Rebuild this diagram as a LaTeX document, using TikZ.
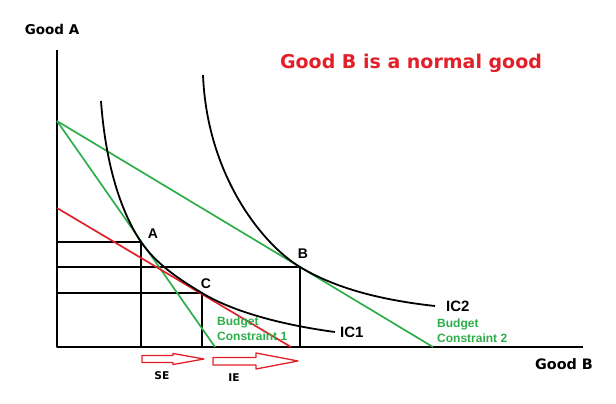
\documentclass[tikz,border=0pt]{standalone}
\usepackage{fontspec}
\setmainfont{Liberation Sans}
\newfontfamily\widefont{DejaVu Sans}
\usetikzlibrary{positioning}
\definecolor{bcgreen}{HTML}{2DAE4A}
\definecolor{shiftred}{HTML}{E2202A}

\begin{document}
\begin{tikzpicture}[x=1pt,y=-1pt,line join=round,
    ax/.style={line width=1.8pt},
    ic/.style={line width=1.8pt},
    bc/.style={draw=bcgreen,line width=1.7pt},
    rl/.style={draw=shiftred,line width=1.7pt},
    box/.style={line width=1.5pt},
    fat/.style={draw=shiftred,line width=1.3pt},
    pt/.style={font=\bfseries\fontsize{14}{14}\selectfont,inner sep=0pt},
    ictext/.style={font=\bfseries\fontsize{15}{15}\selectfont,inner sep=0pt},
    bctext/.style={text=bcgreen,font=\bfseries\fontsize{12}{15}\selectfont,align=left,anchor=north west,inner sep=0pt}]
  \useasboundingbox (0,0) rectangle (616,404);
  % axes
  \coordinate (O) at (57,347);
  \coordinate (ytop) at (57,50);
  \coordinate (xend) at (583,347);
  \draw[ax] (ytop) -- (O) -- (xend);
  \node[font=\widefont\bfseries\fontsize{13.5}{14}\selectfont] (goodA) at (52,29) {Good A};
  \node[font=\widefont\bfseries\fontsize{14.4}{15}\selectfont] (goodB) at (564,364) {Good B};
  \node[text=shiftred,anchor=base,font=\widefont\bfseries\fontsize{19}{20}\selectfont] (title) at (411,68.5) {Good B is a normal good};
  % optimum points
  \coordinate (A) at (141,242);
  \coordinate (B) at (300,267);
  \coordinate (C) at (202,293);
  \draw[box] (A -| O) -- (A) -- (A |- O);
  \draw[box] (B -| O) -- (B) -- (B |- O);
  \draw[box] (C -| O) -- (C) -- (C |- O);
  % budget lines
  \coordinate (a0) at (57,121);
  \coordinate (b1) at (215,347);
  \coordinate (b2) at (433,347);
  \coordinate (r0) at (57,208);
  \coordinate (r1) at (291,347);
  \draw[bc] (a0) -- (b1);
  \draw[bc] (a0) -- (b2);
  \draw[rl] (r0) -- (r1);
  % indifference curves
  \coordinate (ic1e) at (335,332);
  \coordinate (ic2e) at (435,306);
  \draw[ic] (101,101) .. controls (106,170) and (123,215) .. (A)
    .. controls (156,263.5) and (177,278) .. (C)
    .. controls (237,314) and (290,326) .. (ic1e);
  \draw[ic] (203,75) .. controls (207,175) and (262,244) .. (B)
    .. controls (335,288) and (380,300) .. (ic2e);
  \node[pt] (la) at (153,234) {A};
  \node[pt] (lb) at (303,254) {B};
  \node[pt] (lc) at (206,284) {C};
  \node[ictext,right=5pt of ic1e] (ic1) {IC1};
  \node[ictext,right=11pt of ic2e] (ic2) {IC2};
  \node[bctext] (bc1) at (217,317) {Budget\\Constraint 1};
  \node[bctext] (bc2) at (437,319) {Budget\\Constraint 2};
  % substitution and income effect
  \draw[fat] (142,355.5) -- (173,355.5) -- (173,353.5) -- (204,359) -- (173,364.5) -- (173,362.5) -- (142,362.5) -- cycle;
  \draw[fat] (213,357.5) -- (256,357.5) -- (256,353) -- (298,361) -- (256,369) -- (256,365) -- (213,365) -- cycle;
  \node[font=\widefont\bfseries\fontsize{10.7}{11}\selectfont] (se) at (162,376) {SE};
  \node[font=\widefont\bfseries\fontsize{10.7}{11}\selectfont] (ie) at (234,378) {IE};
\end{tikzpicture}
\end{document}
